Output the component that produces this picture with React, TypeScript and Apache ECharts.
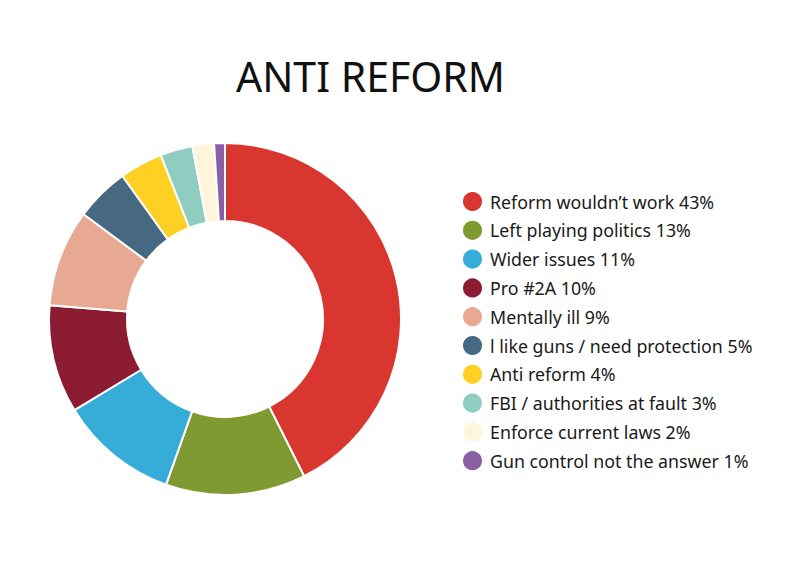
import React, { useEffect, useRef } from "react";
import * as echarts from "echarts";

const categories = [
  "Reform wouldn’t work",
  "Left playing politics",
  "Wider issues",
  "Pro #2A",
  "Mentally ill",
  "l like guns / need protection",
  "Anti reform",
  "FBI / authorities at fault",
  "Enforce current laws",
  "Gun control not the answer",
];
const values = [43, 13, 11, 10, 9, 5, 4, 3, 2, 1];
const colors = [
  "#D9362F",
  "#7E9A31",
  "#36ACD9",
  "#8B1C32",
  "#E8A993",
  "#466880",
  "#FDD023",
  "#8FCDC0",
  "#FFF5DA",
  "#8A5FA5",
];

export default function App() {
  const ref = useRef<HTMLDivElement>(null);
  useEffect(() => {
    if (!ref.current) return;
    const chart = echarts.init(ref.current, undefined, { renderer: "svg" });
    const valueByName: Record<string, number> = {};
    categories.forEach((c, i) => (valueByName[c] = values[i]));
    chart.setOption({
      animation: false,
      backgroundColor: "#ffffff",
      color: colors,
      title: {
        text: "ANTI REFORM",
        left: 231,
        top: 50,
        textStyle: {
          fontFamily: "Noto Sans",
          fontSize: 41,
          fontWeight: "normal",
          color: "#111111",
        },
      },
      legend: {
        orient: "vertical",
        left: 456,
        top: 185,
        icon: "circle",
        itemWidth: 21,
        itemHeight: 21,
        itemGap: 5.8,
        selectedMode: false,
        formatter: (name: string) => `${name} ${valueByName[name]}%`,
        textStyle: {
          fontFamily: "Noto Sans",
          fontSize: 17.8,
          color: "#1a1a1a",
          padding: [0, 0, 0, 2],
        },
      },
      series: [
        {
          type: "pie",
          center: [225, 319],
          radius: [98, 176],
          startAngle: 90,
          clockwise: true,
          label: { show: false },
          labelLine: { show: false },
          itemStyle: { borderColor: "#ffffff", borderWidth: 2 },
          emphasis: { disabled: true },
          data: categories.map((c, i) => ({ name: c, value: values[i] })),
        },
      ],
    });
    return () => chart.dispose();
  }, []);
  return (
    <div
      ref={ref}
      style={{ position: "fixed", left: 0, top: 0, width: 790, height: 564 }}
    />
  );
}
